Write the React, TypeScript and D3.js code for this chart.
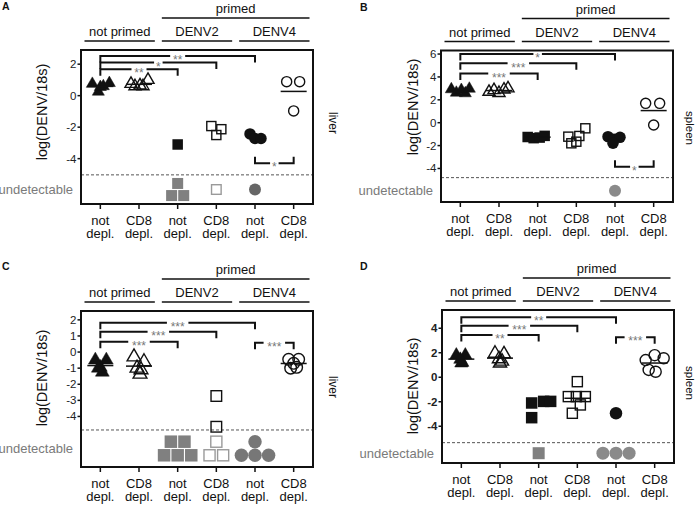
import React from "react";
import * as d3 from "d3";

// ---------- shared labels ----------
const subGroups = ["not primed", "DENV2", "DENV4"];
const superGroup = "primed";
const xLabelTop = ["not", "CD8", "not", "CD8", "not", "CD8"];
const xLabelBottom = ["depl.", "depl.", "depl.", "depl.", "depl.", "depl."];
const yAxisTitle = "log(DENV/18s)";
const undetectableLabel = "undetectable";

// marker style per column: not primed (triangles), DENV2 (squares), DENV4 (circles)
const markerKinds = ["triangle", "triangle", "square", "square", "circle", "circle"];
const markerFilled = [true, false, true, false, true, false];

// ---------- Panel A (liver) ----------
const aTicks = [2, 0, -2, -4];
const aDomain = [-6.88, 2.9];
const aLimit = -5.03;
const aUndetLevel = -5.96;
const aValues = [
  [0.75, 0.25, 0.55, 0.6, 0.8],
  [0.75, 0.6, 0.65, 0.6, 1.0],
  [-3.1],
  [-1.93, -2.5, -2.13],
  [-2.43, -2.72, -2.72],
  [0.89, 0.89, -0.97],
];
const aJitter = [
  [-8, -2, 0, 3, 9],
  [-8, -4, 1, 4, 9],
  [0],
  [-5, 0, 5],
  [-5, 0, 6],
  [-7, 6, 0],
];
const aUndetRows = [[], [], [2, 1], [1], [1], []];
const aMeans = [true, true, false, false, false, true];
const aBrackets = [
  { from: 0, to: 2, label: "**", level: 1.68, up: false },
  { from: 0, to: 3, label: "*", level: 2.1, up: false },
  { from: 0, to: 4, label: "**", level: 2.52, up: false },
  { from: 4, to: 5, label: "*", level: -4.29, up: true },
];

// ---------- Panel B (spleen) ----------
const bTicks = [6, 4, 2, 0, -2, -4];
const bDomain = [-6.93, 6.31];
const bLimit = -4.8;
const bUndetLevel = -5.94;
const bValues = [
  [2.92, 2.62, 2.86, 2.57, 2.97],
  [2.7, 2.85, 2.6, 2.9, 3.0],
  [-1.25, -1.35, -1.3, -1.15],
  [-1.22, -1.8, -1.16, -0.49, -1.66],
  [-1.22, -1.45, -1.28, -1.8],
  [1.69, 1.69, -0.2],
];
const bJitter = [
  [-9, -4, 1, 5, 9],
  [-10, -5, 0, 5, 9],
  [-10, -4, 2, 7],
  [-8, -5, 3, 9, 0],
  [-7, -1, 5, -2],
  [-8, 6, 0],
];
const bUndetRows = [[], [], [], [], [1], []];
const bMeans = [true, true, true, false, false, true];
const bBrackets = [
  { from: 0, to: 2, label: "***", level: 4.31, up: false },
  { from: 0, to: 3, label: "***", level: 5.19, up: false },
  { from: 0, to: 4, label: "*", level: 6.0, up: false },
  { from: 4, to: 5, label: "*", level: -3.84, up: true },
];

// ---------- Panel C (liver) ----------
const cTicks = [2, 1, 0, -1, -2, -3, -4];
const cDomain = [-7.14, 2.55];
const cLimit = -4.84;
const cUndetLevel = -5.99;
const cValues = [
  [-0.5, -0.5, -0.95, -1.25, -1.0],
  [-0.3, -0.6, -1.0, -1.1, -1.37],
  [],
  [-2.73, -4.64],
  [],
  [-0.45, -0.45, -0.7, -1.0, -0.95],
];
const cJitter = [
  [-5, 6, 0, 2, -2],
  [-5, 5, -2, 2, 1],
  [],
  [0, 0],
  [],
  [-5, 5, 0, -3, 3],
];
const cUndetRows = [[], [], [3, 2], [2, 1], [3, 1], []];
const cMeans = [true, true, false, false, false, true];
const cBrackets = [
  { from: 0, to: 2, label: "***", level: 0.64, up: false },
  { from: 0, to: 3, label: "***", level: 1.26, up: false },
  { from: 0, to: 4, label: "***", level: 1.82, up: false },
  { from: 4, to: 5, label: "***", level: 0.58, up: false },
];

// ---------- Panel D (spleen) ----------
const dTicks = [4, 2, 0, -2, -4];
const dDomain = [-7.0, 5.49];
const dLimit = -5.34;
const dUndetLevel = -6.2;
const dValues = [
  [1.8, 1.8, 1.15, 1.45, 1.2],
  [1.95, 1.9, 1.5, 1.15, 1.3],
  [-2.1, -3.3, -1.97, -1.97],
  [-0.36, -1.58, -1.58, -1.58, -2.26, -2.94],
  [-2.94],
  [1.4, 1.8, 1.55, 0.6, 0.45],
];
const dJitter = [
  [-5, 4, 0, -1, 1],
  [-5, 4, -1, 0, 2],
  [-7, -7, 5, 12],
  [0, -9, 8, -1, 3, -5],
  [0],
  [-9, 0, 9, -6, 1],
];
const dUndetRows = [[], [], [1], [], [3], []];
const dMeans = [true, true, false, true, false, true];
const dBrackets = [
  { from: 0, to: 2, label: "**", level: 3.45, up: false },
  { from: 0, to: 3, label: "***", level: 4.21, up: false },
  { from: 0, to: 4, label: "**", level: 4.9, up: false },
  { from: 4, to: 5, label: "***", level: 3.27, up: false },
];

// ---------- layout (positions / sizes) ----------
const FONT = "'Liberation Sans', Arial, Helvetica, sans-serif";
const layouts = [
  { letter: "A", organ: "liver", x0: 81, x1: 313, y0: 50, y1: 204, lx: 2, ly: 10, tx: 42, ty: 112, ox: 333, oy: 123, ms: 10.5, organSize: 12, boldTicks: false, grayCircle: "#666" },
  { letter: "B", organ: "spleen", x0: 441, x1: 673, y0: 50.5, y1: 202, lx: 360, ly: 11, tx: 413, ty: 107, ox: 690, oy: 128, ms: 10.5, organSize: 11.5, boldTicks: false, grayCircle: "#8a8a8a" },
  { letter: "C", organ: "liver", x0: 81, x1: 313, y0: 311, y1: 467, lx: 2, ly: 270, tx: 42, ty: 378, ox: 333, oy: 387, ms: 12, organSize: 12, boldTicks: false, grayCircle: "#777" },
  { letter: "D", organ: "spleen", x0: 442, x1: 674, y0: 310, y1: 463, lx: 360, ly: 270, tx: 413, ty: 386, ox: 690, oy: 383, ms: 11.5, organSize: 11.5, boldTicks: true, grayCircle: "#8a8a8a" },
];

const panelData = [
  { ticks: aTicks, domain: aDomain, limit: aLimit, undet: aUndetLevel, values: aValues, jitter: aJitter, rows: aUndetRows, means: aMeans, brackets: aBrackets },
  { ticks: bTicks, domain: bDomain, limit: bLimit, undet: bUndetLevel, values: bValues, jitter: bJitter, rows: bUndetRows, means: bMeans, brackets: bBrackets },
  { ticks: cTicks, domain: cDomain, limit: cLimit, undet: cUndetLevel, values: cValues, jitter: cJitter, rows: cUndetRows, means: cMeans, brackets: cBrackets },
  { ticks: dTicks, domain: dDomain, limit: dLimit, undet: dUndetLevel, values: dValues, jitter: dJitter, rows: dUndetRows, means: dMeans, brackets: dBrackets },
];

function marker(kind: string, filled: boolean, px: number, py: number, s: number, key: string, fillColor = "#111", strokeColor = "#111") {
  if (kind === "triangle") {
    const w = s * 1.15;
    const path = d3.symbol(d3.symbolTriangle, (Math.sqrt(3) / 4) * w * w)();
    return (
      <path key={key} d={path || ""} transform={`translate(${px},${py})`}
        fill={filled ? fillColor : "none"} stroke={strokeColor} strokeWidth={filled ? 0.5 : 1.4} strokeLinejoin="miter" />
    );
  }
  if (kind === "square") {
    const side = filled ? s : s - 1.4;
    return (
      <rect key={key} x={px - side / 2} y={py - side / 2} width={side} height={side}
        fill={filled ? fillColor : "none"} stroke={filled ? "none" : strokeColor} strokeWidth={1.4} />
    );
  }
  const r = filled ? s / 2 + 0.5 : s / 2 - 0.2;
  return (
    <circle key={key} cx={px} cy={py} r={r} fill={filled ? fillColor : "none"} stroke={filled ? "none" : strokeColor} strokeWidth={1.4} />
  );
}

function Panel({ L, D }: { L: any; D: any }) {
  const x = d3.scaleBand<number>().domain(d3.range(6)).range([L.x0, L.x1]).padding(0);
  const bw = x.bandwidth();
  const cx = (i: number) => (x(i) as number) + bw / 2;
  const y = d3.scaleLinear().domain(D.domain).range([L.y1, L.y0]);
  const els: any[] = [];

  // headers
  const hdr = (i0: number, i1: number) => [(x(i0) as number) + 3.5, (x(i1) as number) + bw - 3.5];
  const [p0, p1] = hdr(2, 5);
  els.push(<text key="primed" x={(p0 + p1) / 2} y={L.y0 - 37} textAnchor="middle" fontSize={13}>{superGroup}</text>);
  els.push(<line key="primedL" x1={p0} x2={p1} y1={L.y0 - 32} y2={L.y0 - 32} stroke="#111" strokeWidth={1.3} />);
  subGroups.forEach((g, k) => {
    const [a, b] = hdr(k * 2, k * 2 + 1);
    els.push(<text key={"sg" + k} x={(a + b) / 2} y={L.y0 - 14} textAnchor="middle" fontSize={13}>{g}</text>);
    els.push(<line key={"sgl" + k} x1={a} x2={b} y1={L.y0 - 9} y2={L.y0 - 9} stroke="#111" strokeWidth={1.3} />);
  });

  // letter
  els.push(<text key="letter" x={L.lx} y={L.ly} fontSize={10.5} fontWeight="bold">{L.letter}</text>);

  // y ticks
  D.ticks.forEach((t: number) => {
    els.push(<line key={"yt" + t} x1={L.x0 - 3.5} x2={L.x0} y1={y(t)} y2={y(t)} stroke="#111" strokeWidth={1.5} />);
    els.push(
      <text key={"ytl" + t} x={L.x0 - 4.5} y={y(t)} textAnchor="end" dominantBaseline="central" fontSize={11.5}
        fontWeight={L.boldTicks ? "bold" : "normal"} fill="#222">{t}</text>
    );
  });

  // x ticks & labels
  d3.range(6).forEach((i) => {
    els.push(<line key={"xt" + i} x1={cx(i)} x2={cx(i)} y1={L.y1} y2={L.y1 + 5} stroke="#111" strokeWidth={1.5} />);
    els.push(<text key={"xl1" + i} x={cx(i)} y={L.y1 + 20.5} textAnchor="middle" fontSize={13}>{xLabelTop[i]}</text>);
    els.push(<text key={"xl2" + i} x={cx(i)} y={L.y1 + 34} textAnchor="middle" fontSize={13}>{xLabelBottom[i]}</text>);
  });

  // y title
  els.push(
    <text key="ytitle" transform={`translate(${L.tx},${L.ty}) rotate(-90)`} textAnchor="middle" dominantBaseline="central" fontSize={14.5}>{yAxisTitle}</text>
  );
  // organ
  els.push(
    <text key="organ" transform={`translate(${L.ox},${L.oy}) rotate(90)`} textAnchor="middle" dominantBaseline="central" fontSize={L.organSize}>{L.organ}</text>
  );

  // detection limit
  els.push(<line key="lod" x1={L.x0} x2={L.x1} y1={y(D.limit)} y2={y(D.limit)} stroke="#555" strokeWidth={1} strokeDasharray="3,2" />);
  els.push(
    <text key="undet" x={L.x0 - 8} y={y(D.undet)} textAnchor="end" dominantBaseline="central" fontSize={13} fill="#7a7a7a">{undetectableLabel}</text>
  );

  // brackets
  D.brackets.forEach((b: any, k: number) => {
    const xa = cx(b.from), xb = cx(b.to), yl = y(b.level);
    const leg = b.up ? -6.5 : 6.5;
    const xm = (xa + xb) / 2;
    const gap = 6.5 * b.label.length + 2;
    const d = `M${xa},${yl + leg}L${xa},${yl}L${xm - gap / 2},${yl}M${xm + gap / 2},${yl}L${xb},${yl}L${xb},${yl + leg}`;
    els.push(<path key={"br" + k} d={d} fill="none" stroke="#111" strokeWidth={2} />);
    els.push(<text key={"brt" + k} x={xm} y={yl + 8.2} textAnchor="middle" fontSize={12} fill="#777">{b.label}</text>);
  });

  // detected points
  D.values.forEach((vals: number[], i: number) => {
    vals.forEach((v, j) => {
      els.push(marker(markerKinds[i], markerFilled[i], cx(i) + D.jitter[i][j], y(v), L.ms, `p${i}_${j}`));
    });
  });

  // undetected points (stacked rows below the detection limit)
  D.rows.forEach((rows: number[], i: number) => {
    const sp = L.ms + 1.6;
    rows.forEach((m, k) => {
      const yy = y(D.undet) + ((rows.length - 1) / 2 - k) * sp;
      d3.range(m).forEach((j) => {
        const xx = cx(i) + (j - (m - 1) / 2) * sp;
        const col = markerKinds[i] === "circle" ? L.grayCircle : "#808080";
        els.push(marker(markerKinds[i], markerFilled[i], xx, yy, L.ms + 0.5, `u${i}_${k}_${j}`, col, markerFilled[i] ? col : "#9a9a9a"));
      });
    });
  });

  // mean lines
  D.values.forEach((vals: number[], i: number) => {
    if (!D.means[i] || vals.length === 0) return;
    const m = d3.mean(vals) as number;
    els.push(<line key={"mean" + i} x1={cx(i) - 13} x2={cx(i) + 13} y1={y(m)} y2={y(m)} stroke="#111" strokeWidth={1.5} />);
  });

  // frame
  els.push(<rect key="frame" x={L.x0} y={L.y0} width={L.x1 - L.x0} height={L.y1 - L.y0} fill="none" stroke="#111" strokeWidth={2} />);

  return <g>{els}</g>;
}

export default function App() {
  return (
    <svg width={700} height={505} style={{ position: "absolute", left: 0, top: 0, background: "#fff" }}
      fontFamily={FONT} fill="#111">
      <rect x={0} y={0} width={700} height={505} fill="#fff" />
      {layouts.map((L, k) => (
        <Panel key={k} L={L} D={panelData[k]} />
      ))}
    </svg>
  );
}
